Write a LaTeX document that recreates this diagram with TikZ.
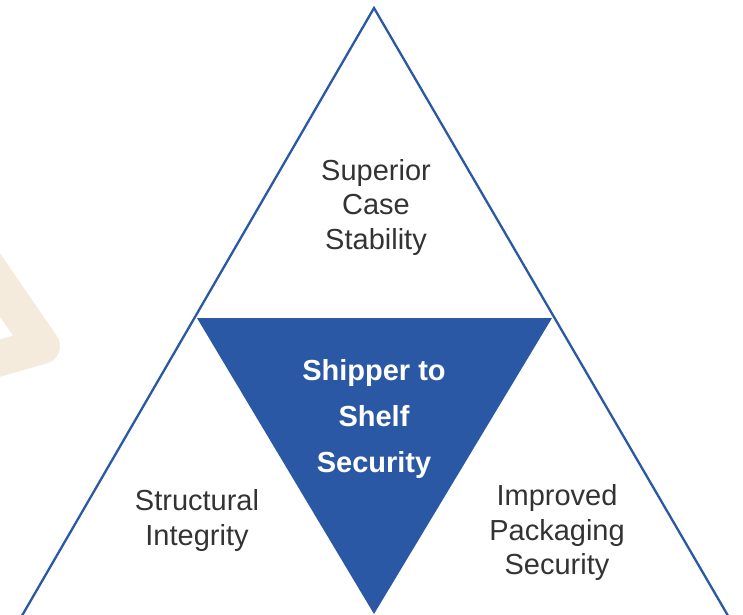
\documentclass[tikz,border=0pt]{standalone}
\usepackage{fontspec}
\setmainfont{Liberation Sans}
\usetikzlibrary{calc}
\definecolor{tblue}{HTML}{2B58A5}
\definecolor{tgrey}{HTML}{333333}
\definecolor{tbeige}{HTML}{F5EBDC}
\begin{document}
\begin{tikzpicture}[x=1pt,y=-1pt,
  lbl/.style={text=tgrey,align=center,font=\fontsize{29}{34.5}\selectfont,inner sep=0pt},
  clbl/.style={text=white,align=center,font=\fontsize{29}{46}\selectfont\bfseries,inner sep=0pt},
  frame/.style={draw=tblue,line width=2.3pt,line join=miter},
  core/.style={fill=tblue}]
\useasboundingbox (0,0) rectangle (743,614);
\clip (0,0) rectangle (743,614);
% faint watermark
\draw[tbeige,line width=36pt,line join=round] (-50,212.5) -- (42,346) -- (-50,372.5);
% outer triangle
\coordinate (A) at (374,8);
\coordinate (L) at (195,317);
\coordinate (R) at (554,317);
\coordinate (B) at ($(A)!2.03!(L)$);
\coordinate (C) at ($(A)!2.03!(R)$);
\draw[frame] (B) -- (A) -- (C);
% inner inverted triangle
\coordinate (D) at (374,614);
\fill[core] (197,318) -- (552,318) -- (D) -- cycle;
% texts
\node[lbl] (top) at (376,207) {Superior\\Case\\Stability};
\node[clbl] (mid) at (374,419) {Shipper to\\Shelf\\Security};
\node[lbl] (left) at (197,520.5) {Structural\\Integrity};
\node[lbl] (right) at (557,532.5) {Improved\\Packaging\\Security};
\end{tikzpicture}
\end{document}
